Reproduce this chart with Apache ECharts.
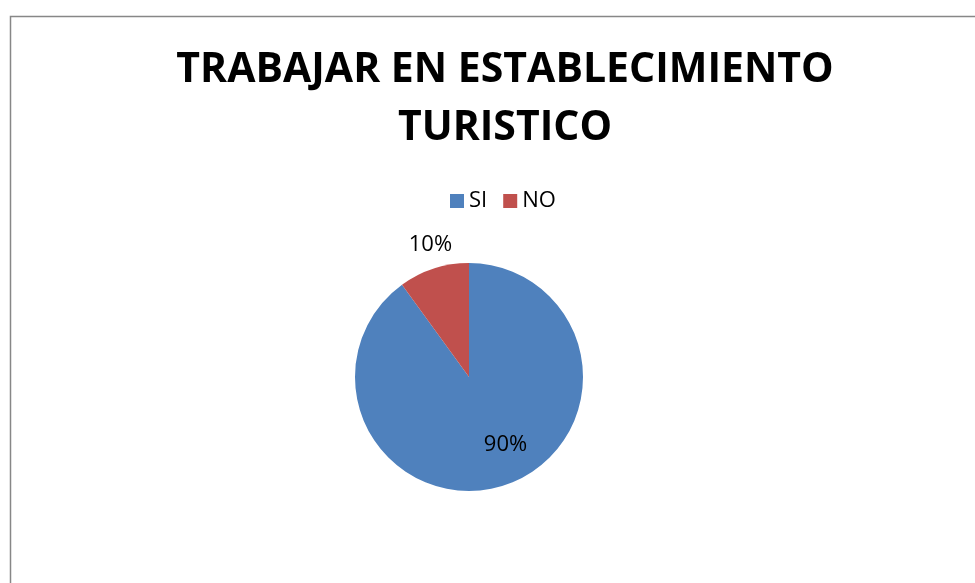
<!DOCTYPE html>
<html>
<head>
<meta charset="utf-8">
<script src="https://cdn.jsdelivr.net/npm/echarts@6/dist/echarts.min.js"></script>
<style>
  html, body { margin: 0; padding: 0; background: #fff; }
  #chart { width: 975px; height: 583px; }
</style>
</head>
<body>
<div id="chart"></div>
<script>
    // datos del grafico
    let categorias = ['SI', 'NO'];
    let valores = [90, 10];
    let colores = ['#4F81BD', '#C0504D'];

    // ajuste de posicion de cada etiqueta (como en excel)
    let desplazamientos = [[18, 11], [-20, -75]];

    function init(){
        let myChart = echarts.init(document.getElementById('chart'));
        let data = categorias.map((nombre, i)=>{
            return {
                name: nombre,
                value: valores[i],
                itemStyle: { color: colores[i] },
                label: { offset: desplazamientos[i] }
            };
        });

        let option = {
            animation: false,
            textStyle: { fontFamily: 'Open Sans' },
            graphic: [{
                type: 'rect',
                shape: { x: 10.5, y: 16.5, width: 1000, height: 600 },
                style: { fill: 'none', stroke: '#878787', lineWidth: 1.5 },
                silent: true
            }],
            title: {
                text: 'TRABAJAR EN ESTABLECIMIENTO\nTURISTICO',
                left: 500,
                top: 36,
                textAlign: 'center',
                textStyle: {
                    fontFamily: 'Open Sans',
                    fontWeight: 'bold',
                    fontSize: 41,
                    lineHeight: 58,
                    color: '#000'
                }
            },
            legend: {
                data: categorias,
                left: 445,
                top: 185,
                icon: 'rect',
                itemWidth: 14,
                itemHeight: 14,
                itemGap: 16,
                itemTextGap: 6,
                textStyle: { fontSize: 22, color: '#000', fontFamily: 'Open Sans' }
            },
            series: [{
                type: 'pie',
                center: [469, 377],
                radius: 114,
                startAngle: 90,
                clockwise: true,
                label: {
                    show: true,
                    position: 'inside',
                    formatter: '{d}%',
                    fontSize: 22,
                    color: '#000',
                    fontFamily: 'Open Sans'
                },
                labelLine: { show: false },
                itemStyle: { borderWidth: 0 },
                emphasis: { disabled: true },
                data: data
            }]
        };
        myChart.setOption(option);
    }

    window.onload = ()=>{
        init();
    }
</script>
</body>
</html>
